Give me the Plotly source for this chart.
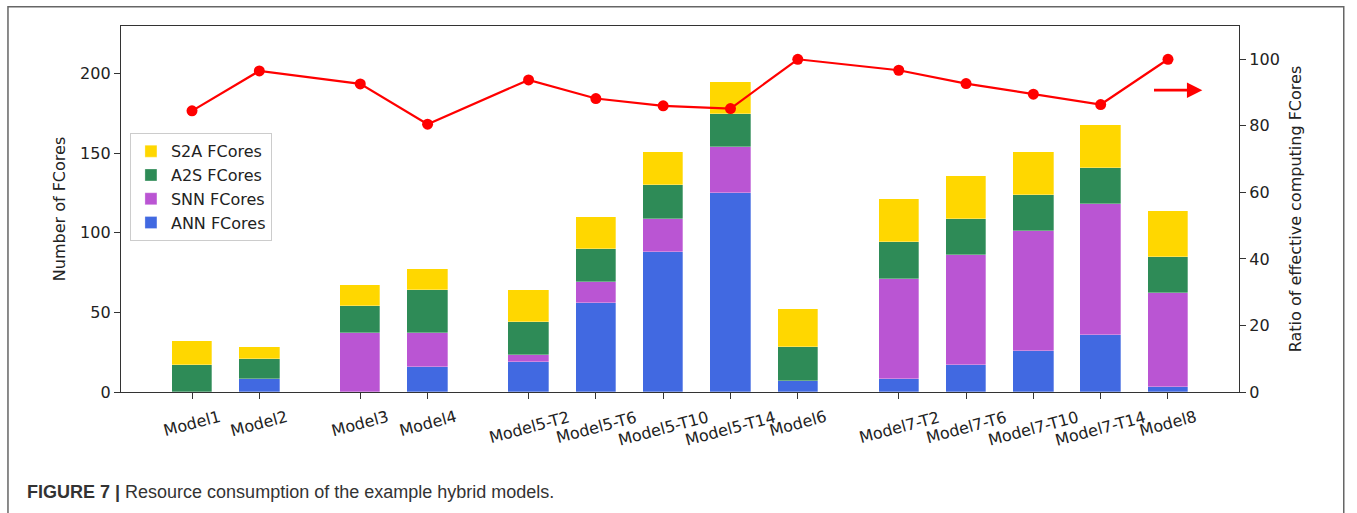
import plotly.graph_objects as go

# ---------------- data ----------------
groups = [
    ["Model1", "Model2"],
    ["Model3", "Model4"],
    ["Model5-T2", "Model5-T6", "Model5-T10", "Model5-T14", "Model6"],
    ["Model7-T2", "Model7-T6", "Model7-T10", "Model7-T14", "Model8"],
]
ann_fcores = [0, 8, 0, 16, 19, 56, 88, 125, 7, 8, 17, 26, 36, 3]
snn_fcores = [0, 0, 37, 21, 4, 13, 21, 29, 0, 63, 69, 75, 82, 59]
a2s_fcores = [17, 13, 17, 27, 21, 21, 21, 21, 21, 23, 23, 23, 23, 23]
s2a_fcores = [15, 7, 13, 13, 20, 20, 21, 20, 24, 27, 27, 27, 27, 29]
ratio_effective = [84.5, 96.5, 92.6, 80.5, 93.8, 88.2, 86.0, 85.2, 100.0,
                   96.7, 92.7, 89.5, 86.4, 100.0]
left_ticks = [0, 50, 100, 150, 200]
right_ticks = [0, 20, 40, 60, 80, 100]

# ---------------- positions (groups separated by a wider gap) ----------------
categories = []
xpos = []
cur = 0.0
for gi, g in enumerate(groups):
    if gi > 0:
        cur += 0.5
    for name in g:
        categories.append(name)
        xpos.append(cur)
        cur += 1.0

FONT = "DejaVu Sans"
TXT = "#222222"
BW = 0.6

fig = go.Figure()
series = [
    ("ANN FCores", ann_fcores, "#4169E1"),
    ("SNN FCores", snn_fcores, "#BA55D3"),
    ("A2S FCores", a2s_fcores, "#2E8B57"),
    ("S2A FCores", s2a_fcores, "#FFD700"),
]
for name, vals, col in series:
    fig.add_trace(go.Bar(
        x=xpos, y=vals, name=name, width=BW,
        marker=dict(color=col, line=dict(color="rgba(255,255,255,0.6)", width=0.5)),
        yaxis="y",
    ))

fig.add_trace(go.Scatter(
    x=xpos, y=ratio_effective, mode="lines+markers", yaxis="y2",
    line=dict(color="#FF0000", width=2.2),
    marker=dict(color="#FF0000", size=11),
    showlegend=False,
))

# tick labels as rotated annotations centred on ticks
annotations = []
for x, name in zip(xpos, categories):
    annotations.append(dict(
        x=x, y=-0.035, xref="x", yref="paper", text=name, showarrow=False,
        textangle=-15, xanchor="center", yanchor="top",
        font=dict(family=FONT, size=16, color=TXT),
    ))

# arrow pointing at the right axis
annotations.append(dict(
    x=15.01, y=90.7, xref="x", yref="y2",
    ax=14.27, ay=90.7, axref="x", ayref="y2",
    showarrow=True, arrowhead=2, arrowsize=1.1, arrowwidth=2.8,
    arrowcolor="#FF0000", text="",
))

# caption
annotations.append(dict(
    x=-0.0859, y=-0.274, xref="paper", yref="paper", xanchor="left", yanchor="middle",
    showarrow=False,
    text="<b>FIGURE 7 |</b> Resource consumption of the example hybrid models.",
    font=dict(family="Liberation Sans Narrow, Liberation Sans, Arial", size=18, color="#333333"),
))

fig.update_layout(
    width=1357, height=513,
    margin=dict(l=121, r=118, t=26, b=121),
    paper_bgcolor="white", plot_bgcolor="white",
    barmode="stack", bargap=0,
    font=dict(family=FONT, size=16, color=TXT),
    showlegend=True,
    legend=dict(
        x=0.008, y=0.707, xanchor="left", yanchor="top",
        traceorder="reversed",
        bgcolor="rgba(255,255,255,0.9)", bordercolor="#cccccc", borderwidth=1,
        font=dict(family=FONT, size=16, color=TXT),
        tracegroupgap=0, itemwidth=30,
    ),
    xaxis=dict(
        range=[-1.055, 15.555], tickvals=xpos, showticklabels=False,
        ticks="outside", ticklen=6, tickcolor="#333", tickwidth=1.2,
        showline=True, linecolor="#333", linewidth=1.3, mirror=True,
        showgrid=False, zeroline=False,
    ),
    yaxis=dict(
        range=[0, 230], tickvals=left_ticks,
        ticks="outside", ticklen=6, tickcolor="#333", tickwidth=1.2,
        showline=True, linecolor="#333", linewidth=1.3,
        showgrid=False, zeroline=False,
        title=dict(text="Number of FCores", standoff=10,
                   font=dict(family=FONT, size=16, color=TXT)),
        tickfont=dict(family=FONT, size=16, color=TXT),
    ),
    yaxis2=dict(
        range=[0, 110], tickvals=right_ticks, overlaying="y", side="right",
        ticks="outside", ticklen=6, tickcolor="#333", tickwidth=1.2,
        showline=True, linecolor="#333", linewidth=1.3,
        showgrid=False, zeroline=False,
        title=dict(text="Ratio of effective computing FCores", standoff=10,
                   font=dict(family=FONT, size=16, color=TXT)),
        tickfont=dict(family=FONT, size=16, color=TXT),
    ),
    annotations=annotations,
    shapes=[dict(
        type="rect", xref="paper", yref="paper",
        x0=-0.1011, x1=1.0937, y0=-0.45, y1=1.0529,
        line=dict(color="#666666", width=1.5), fillcolor="rgba(0,0,0,0)",
        layer="above",
    )],
)

fig.write_html("out.html")
